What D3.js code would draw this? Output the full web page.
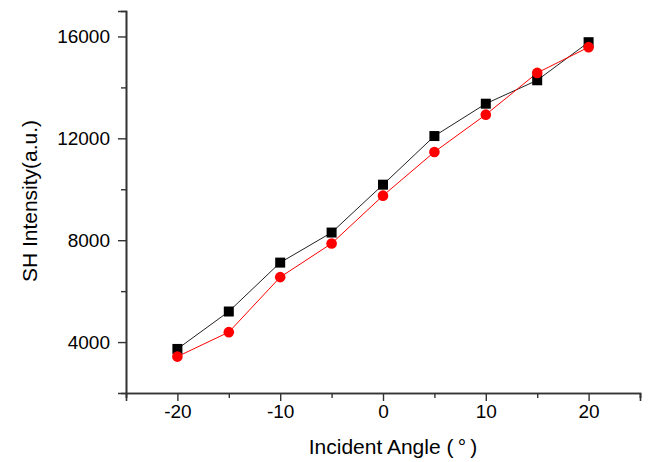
<!DOCTYPE html>
<html>
<head>
<meta charset="utf-8">
<script src="https://cdn.jsdelivr.net/npm/d3@7/dist/d3.min.js"></script>
<style>
  html, body { margin: 0; padding: 0; background: #fff; }
  svg { display: block; font-family: "Liberation Sans", Arial, sans-serif; }
</style>
</head>
<body>
<svg id="chart" width="648" height="462"></svg>
<script>
const angles = [-20, -15, -10, -5, 0, 5, 10, 15, 20];
const seriesBlack = [3730, 5200, 7120, 8300, 10180, 12090, 13360, 14280, 15775];
const seriesRed = [3430, 4390, 6550, 7870, 9750, 11465, 12930, 14570, 15580];
const xTicks = [-20, -10, 0, 10, 20];
const xMinorTicks = [-25, -15, -5, 5, 15, 25];
const yTicks = [4000, 8000, 12000, 16000];
const yMinorTicks = [6000, 10000, 14000];
const xTitle = "Incident Angle (\u2009°\u2009)";
const yTitle = "SH Intensity(a.u.)";

const svg = d3.select("#chart");
const margin = {left: 126, right: 8, top: 11, bottom: 69};
const W = 648, H = 462;
const x = d3.scaleLinear().domain([-25, 25]).range([margin.left, W - margin.right]);
const y = d3.scaleLinear().domain([2000, 17000]).range([H - margin.bottom, margin.top]);

const axisColor = "#333";
const fmt = d => String(d);

// X axis
const gx = svg.append("g").attr("transform", `translate(0,${y(2000)})`);
gx.call(d3.axisBottom(x).tickValues(xTicks).tickSize(8).tickPadding(4).tickFormat(fmt));
gx.append("g").call(d3.axisBottom(x).tickValues(xMinorTicks).tickSize(5).tickFormat(""));
gx.selectAll(".domain").attr("stroke", axisColor).attr("stroke-width", 1.6);
gx.selectAll(".tick line").attr("stroke", axisColor).attr("stroke-width", 1.4);
gx.selectAll(".tick text").attr("font-size", 19).attr("fill", "#000")
  .attr("font-family", "'Liberation Sans', Arial, sans-serif");

// Y axis
const gy = svg.append("g").attr("transform", `translate(${x(-25)},0)`);
gy.call(d3.axisLeft(y).tickValues(yTicks).tickSize(8).tickPadding(8).tickFormat(fmt));
gy.append("g").call(d3.axisLeft(y).tickValues(yMinorTicks).tickSize(5).tickFormat(""));
gy.selectAll(".domain").attr("stroke", axisColor).attr("stroke-width", 1.6);
gy.selectAll(".tick line").attr("stroke", axisColor).attr("stroke-width", 1.4);
gy.selectAll(".tick text").attr("font-size", 19).attr("fill", "#000")
  .attr("font-family", "'Liberation Sans', Arial, sans-serif");

// Titles
svg.append("text").attr("x", 393).attr("y", 454).attr("text-anchor", "middle")
  .attr("font-size", 21).attr("fill", "#000").text(xTitle);
svg.append("text").attr("transform", `translate(37,201) rotate(-90)`)
  .attr("text-anchor", "middle").attr("font-size", 21).attr("fill", "#000").text(yTitle);

const line = d3.line().x(d => x(d[0])).y(d => y(d[1]));
const blackData = angles.map((a, i) => [a, seriesBlack[i]]);
const redData = angles.map((a, i) => [a, seriesRed[i]]);

svg.append("path").datum(blackData).attr("d", line).attr("fill", "none")
  .attr("stroke", "#222").attr("stroke-width", 1);
svg.append("path").datum(redData).attr("d", line).attr("fill", "none")
  .attr("stroke", "#ff0000").attr("stroke-width", 1);

const s = 10;
svg.append("g").selectAll("rect").data(blackData).join("rect")
  .attr("x", d => x(d[0]) - s/2).attr("y", d => y(d[1]) - s/2)
  .attr("width", s).attr("height", s).attr("fill", "#000");
svg.append("g").selectAll("circle").data(redData).join("circle")
  .attr("cx", d => x(d[0])).attr("cy", d => y(d[1])).attr("r", 5.3).attr("fill", "#ff0000");
</script>
</body>
</html>
